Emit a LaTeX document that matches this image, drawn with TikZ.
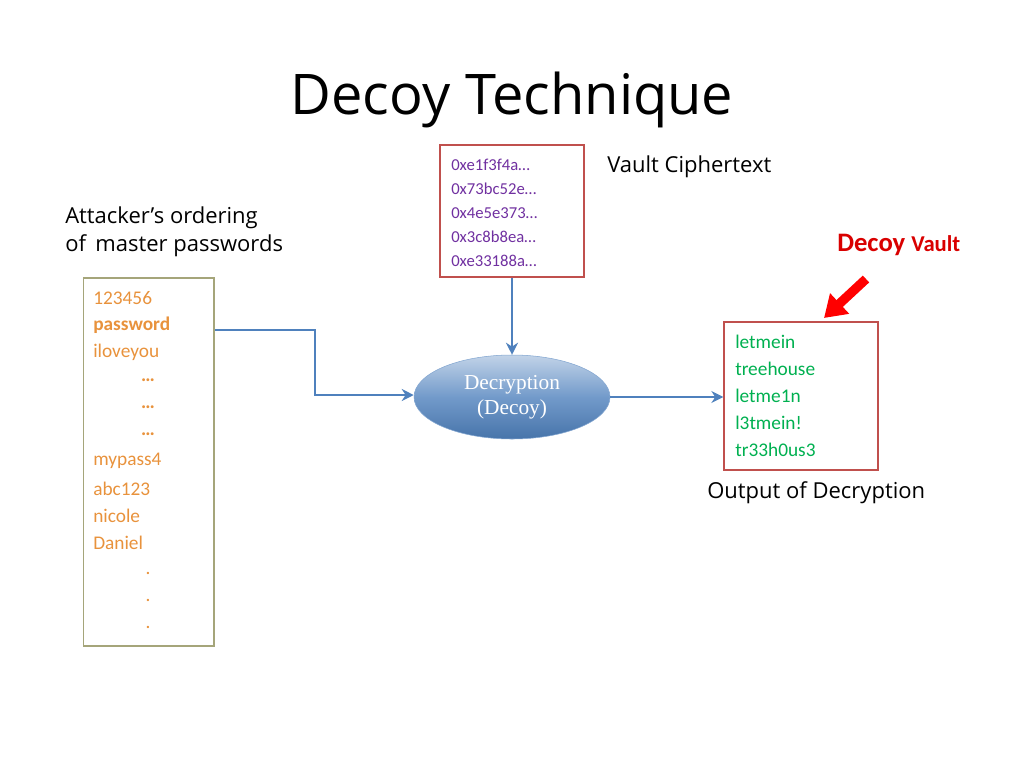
\documentclass[tikz,border=0pt]{standalone}
\usepackage{fontspec}
\setmainfont{Carlito}
\newfontfamily\titlefont{Open Sans}
\newfontfamily\serifont{Liberation Serif}
\usetikzlibrary{arrows.meta,shapes.geometric,shadings}
\definecolor{redb}{HTML}{C0504D}
\definecolor{olive}{HTML}{A5A57A}
\definecolor{purp}{HTML}{7030A0}
\definecolor{orng}{HTML}{E8923C}
\definecolor{grn}{HTML}{00B050}
\definecolor{steel}{HTML}{4F81BD}
\tikzset{
  conn/.style={draw=steel,line width=2pt,-{Stealth[length=9pt,width=9pt]}},
  lbl/.style={anchor=west,inner sep=0,font=\fontsize{16.5}{18}\selectfont\titlefont},
  pl/.style={anchor=west,inner sep=0,font=\fontsize{14.5}{16}\selectfont,text=orng},
}
\begin{document}
\begin{tikzpicture}[x=0.75pt,y=-0.75pt]
\useasboundingbox (0,0) rectangle (1024,768);
\node[font=\fontsize{42}{48}\selectfont\titlefont] (title) at (512,100) {Decoy Technique};
% cipher box
\node[draw=redb,line width=1.5pt,minimum width=108pt,minimum height=99pt] (cbox) at (512,211) {};
\foreach \t [count=\i] in {0xe1f3f4a…,0x73bc52e…,0x4e5e373…,0x3c8b8ea…,0xe33188a…}
  \node[anchor=west,inner sep=0,font=\fontsize{12.5}{14}\selectfont,text=purp] (c\i) at (451,165+24*\i-24) {\t};
\node[lbl] (vct) at (607,167) {Vault Ciphertext};
\node[lbl] (att1) at (65,218) {Attacker’s ordering};
\node[lbl] (att2) at (65,246) {of\, master passwords};
% left box
\node[draw=olive,line width=1pt,minimum width=98pt,minimum height=276pt] (lbox) at (148.5,462) {};
\foreach \t/\y in {123456/298,{\textbf{password}}/325,iloveyou/352,mypass4/461,abc123/489,nicole/516,Daniel/543}
  \node[pl] at (93,\y) {\t};
\foreach \y in {380,407,434} \node[font=\fontsize{14.5}{16}\selectfont\bfseries,text=orng,inner sep=0] at (148,\y) {…};
\foreach \y in {573,600,627} \node[font=\fontsize{14.5}{16}\selectfont,text=orng,inner sep=0] at (148,\y) {.};
% ellipse
\node[ellipse,minimum width=147pt,minimum height=63pt,top color=steel!35!white,bottom color=steel!90!black,middle color=steel!80,draw=steel!70!white,text=white,font=\fontsize{16}{19}\selectfont\serifont,align=center] (dec) at (512,397) {Decryption\\(Decoy)};
% output box
\node[draw=redb,line width=1.5pt,minimum width=115pt,minimum height=111pt] (obox) at (801,396) {};
\foreach \t [count=\i] in {letmein,treehouse,letme1n,l3tmein!,tr33h0us3}
  \node[anchor=west,inner sep=0,font=\fontsize{14.5}{16}\selectfont,text=grn] (o\i) at (735,342+27*\i-27) {\t};
\node[lbl] (out) at (707,493) {Output of Decryption};
% decoy vault
\node[anchor=west,inner sep=0,text=red!85!black,font=\fontsize{20}{22}\selectfont\bfseries] (dv) at (837,245) {Decoy {\fontsize{17}{20}\selectfont Vault}};
\coordinate (ra) at (866,279);
\coordinate (rb) at (824,318);
\draw[red,line width=7pt,-{Triangle[length=16pt,width=20pt]}] (ra) -- (rb);
% connectors
\coordinate (k1) at (315,330);
\coordinate (k2) at (315,395);
\draw[conn] (lbox.east |- k1) -- (k1) -- (k2) -- (dec.west |- k2);
\draw[conn] (cbox.south) -- (dec.north);
\draw[conn] (dec.east) -- (obox.west |- dec.east);
\end{tikzpicture}
\end{document}
